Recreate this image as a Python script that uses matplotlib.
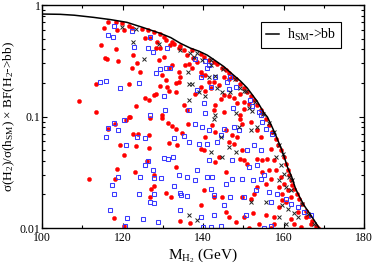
import matplotlib
matplotlib.use("Agg")
import matplotlib.pyplot as plt
from matplotlib.ticker import LogLocator, NullFormatter, MultipleLocator

plt.rcParams['font.family'] = ['Liberation Serif', 'DejaVu Serif']
plt.rcParams['mathtext.default'] = 'regular'

# SM reference curve (h_SM -> bb)
curve_x = [100, 104.5, 108, 112.8, 117, 121.1, 125, 129.4, 132, 134.4, 136.9, 139, 141, 143,
           145.2, 147, 149.3, 151, 153.5, 155.2, 156, 157, 158, 158.6, 159.5, 160.3, 161, 162,
           163, 164, 165, 165.5, 166.5, 167.5, 168.4, 169, 169.5]
curve_y = [0.83, 0.825, 0.81, 0.775, 0.74, 0.699, 0.63, 0.557, 0.51, 0.453, 0.41, 0.385, 0.356, 0.318,
           0.280, 0.245, 0.208, 0.180, 0.136, 0.107, 0.099, 0.083, 0.069, 0.061, 0.051, 0.042, 0.035, 0.029,
           0.0225, 0.019, 0.0162, 0.0152, 0.0135, 0.0119, 0.0106, 0.0098, 0.0092]

red_x = [115.3, 116.5, 118.4, 119.9, 121.5, 122.4, 120.3, 118.6, 124.8, 126.3, 127.8, 129.4, 130.2, 130.9,
         132.3, 132.9, 134.0, 135.4, 114.7, 118.4, 118.8, 115.7, 116.1, 122.6, 123.6, 125.7, 126.9, 128.6,
         129.4, 128.2, 131.9, 134.4, 136.1, 136.5, 132.3, 134.0, 134.4, 134.0, 130.7, 129.8, 129.0, 130.2,
         131.5, 122.4, 124.4, 121.5, 113.5, 129.4, 131.1, 133.2, 131.5, 133.2, 128.2, 127.8, 125.7, 126.5,
         123.4, 109.1, 113.5, 121.8, 129.8, 135.2, 135.9, 135.6,
         121.5, 120.9, 118.2, 116.5, 126.8, 129.8, 131.2, 132.3, 133.4, 134.8, 136.3, 122.6, 123.8, 126.7,
         119.3, 123.4, 126.5, 131.5, 133.6, 120.4, 126.1, 133.3, 118.6, 123.2, 127.8, 111.7, 118.2, 127.8,
         127.1, 126.8, 130.7, 132.1, 118.0, 120.3, 134.4, 136.7,
         137.3, 139.4, 140.2, 141.4, 142.7, 143.5, 144.8, 145.6, 146.4, 147.3, 148.1, 149.3, 150.2, 151.0,
         151.8, 152.7, 153.5, 154.3, 154.7,
         137.3, 138.5, 139.4, 140.6, 141.4, 139.4, 140.6, 138.1, 142.7, 143.9, 145.2, 146.4, 145.2, 146.4,
         147.7, 149.3, 148.5, 144.4, 143.1, 142.7, 145.2, 150.2, 150.2, 151.4, 149.3, 139.8, 141.9, 137.5,
         155.6, 156.4, 157.2, 158.1, 158.6, 159.3, 160.0, 160.6, 161.0, 161.4, 161.8, 162.2, 162.6, 163.3,
         163.9, 164.7, 165.5, 166.4, 167.2, 168.0, 168.5,
         166.8, 165.5, 163.5, 161.8, 161.0, 160.1, 159.3, 160.6, 159.7, 162.6, 164.3, 161.8,
         149.3, 149.8, 147.3, 148.5, 145.6, 143.1, 142.3, 140.6, 139.4, 140.2, 143.9, 146.4, 147.7, 149.8,
         149.3, 150.2, 151.0, 153.5, 154.7, 156.0, 156.4, 154.7, 156.8, 155.6, 153.5, 152.7, 151.8, 149.8,
         144.8, 142.7, 140.2, 139.4, 145.6, 143.1, 145.6, 146.4, 148.1, 150.2, 152.3, 155.6, 157.7, 153.9,
         157.7, 158.9, 154.3, 153.5, 151.8, 156.8, 157.7, 158.1, 158.9, 159.7, 151.5, 157.0]
red_y = [0.626, 0.709, 0.70, 0.685, 0.652, 0.618, 0.597, 0.597, 0.609, 0.597, 0.569, 0.546, 0.520, 0.486,
         0.463, 0.444, 0.409, 0.395, 0.438, 0.400, 0.315, 0.332, 0.328, 0.356, 0.300, 0.502, 0.502, 0.469,
         0.414, 0.409, 0.438, 0.432, 0.356, 0.294, 0.290, 0.252, 0.228, 0.202, 0.213, 0.236, 0.321, 0.344,
         0.270, 0.270, 0.252, 0.197, 0.194, 0.188, 0.185, 0.198, 0.169, 0.165, 0.158, 0.156, 0.146, 0.141,
         0.125, 0.138, 0.109, 0.099, 0.103, 0.127, 0.114, 0.290,
         0.098, 0.0924, 0.085, 0.0766, 0.096, 0.097, 0.087, 0.082, 0.078, 0.0716, 0.085, 0.0693, 0.0693, 0.0678,
         0.056, 0.0544, 0.0522, 0.058, 0.0553, 0.0455, 0.040, 0.0349, 0.0341, 0.0318, 0.0297, 0.0277, 0.0274, 0.0236,
         0.0225, 0.019, 0.0206, 0.019, 0.0122, 0.0104, 0.0116, 0.0112,
         0.395, 0.361, 0.344, 0.321, 0.306, 0.294, 0.274, 0.261, 0.244, 0.228, 0.217, 0.195, 0.181, 0.165,
         0.154, 0.141, 0.127, 0.114, 0.107,
         0.270, 0.310, 0.252, 0.236, 0.202, 0.185, 0.169, 0.158, 0.205, 0.192, 0.228, 0.217, 0.156, 0.154,
         0.146, 0.158, 0.131, 0.143, 0.127, 0.114, 0.110, 0.117, 0.136, 0.129, 0.103, 0.236, 0.179, 0.332,
         0.0956, 0.0834, 0.0727, 0.0633, 0.0551, 0.0497, 0.0433, 0.0378, 0.0329, 0.0297, 0.0268, 0.0241, 0.0225, 0.0203,
         0.0183, 0.0165, 0.0142, 0.0127, 0.0115, 0.0104, 0.0100,
         0.0109, 0.0125, 0.0139, 0.0190, 0.0218, 0.0250, 0.0287, 0.0171, 0.0177, 0.0109, 0.0102, 0.0121,
         0.0956, 0.0851, 0.0678, 0.0655, 0.0752, 0.0727, 0.0834, 0.0655, 0.0515, 0.0497, 0.0433, 0.0591, 0.0571, 0.0497,
         0.0419, 0.0405, 0.0378, 0.0419, 0.0405, 0.0419, 0.0329, 0.0318, 0.0277, 0.0250, 0.0233, 0.0203, 0.0183, 0.0190,
         0.0190, 0.0190, 0.0218, 0.0160, 0.0318, 0.0390, 0.0139, 0.0125, 0.0113, 0.0125, 0.0135, 0.0130, 0.0125, 0.0109,
         0.0109, 0.0154, 0.0655, 0.0752, 0.0893, 0.0515, 0.0405, 0.0329, 0.0233, 0.0203, 0.0101, 0.0101]

blue_x = [118.0, 116.5, 117.6, 122.4, 126.9, 122.9, 126.3, 127.6, 131.1, 129.2, 128.4, 130.8, 131.9, 114.5,
          116.0, 119.3, 124.0, 130.2, 126.8, 130.5, 136.5,
          117.8, 120.3, 116.5, 118.8, 115.9, 123.6, 125.7, 120.9, 132.7, 135.4, 136.5, 132.6, 130.2, 131.3,
          126.3, 125.7, 127.6, 119.0, 124.3, 127.8, 129.6, 134.0, 135.9, 117.4, 117.8, 124.0, 127.9, 132.7,
          134.4, 134.6, 135.9, 126.8, 127.9, 116.8, 134.2, 121.1, 125.0, 128.7, 120.5,
          138.1, 140.6, 141.4, 139.4, 142.9, 146.8, 148.1, 146.4, 138.5, 140.2, 140.6, 147.5, 151.7, 152.2,
          153.9, 154.3, 141.0, 141.9, 146.0,
          138.1, 139.8, 141.4, 144.4, 143.5, 141.0, 139.0, 141.4, 138.5, 141.0, 138.1, 142.3, 147.3, 151.0,
          152.7, 151.4, 147.3, 149.8, 152.3, 154.3, 145.6, 141.9, 142.7, 146.8, 150.2, 145.2, 139.4, 142.7,
          150.6, 153.1, 156.4, 156.8, 154.7, 155.6, 157.2, 154.3, 153.5, 155.2, 158.5, 160.6, 161.8, 163.5,
          165.1, 166.8, 147.7, 148.9, 145.2,
          140.1, 142.0, 144.4, 155.1, 157.0]
blue_y = [0.652, 0.538, 0.520, 0.585, 0.520, 0.417, 0.409, 0.381, 0.409, 0.265, 0.244, 0.274, 0.274, 0.205,
          0.208, 0.179, 0.198, 0.153, 0.103, 0.114, 0.114,
          0.087, 0.094, 0.079, 0.076, 0.0656, 0.066, 0.0641, 0.0553, 0.0635, 0.0663, 0.0596, 0.0433, 0.0421, 0.0415,
          0.0399, 0.037, 0.0329, 0.0285, 0.0285, 0.0282, 0.0279, 0.0297, 0.0288, 0.0244, 0.0201, 0.0203, 0.0203, 0.0236,
          0.0206, 0.0197, 0.0193, 0.0171, 0.0167, 0.0145, 0.0146, 0.0122, 0.0121, 0.0113, 0.0105,
          0.328, 0.315, 0.290, 0.228, 0.228, 0.228, 0.185, 0.177, 0.173, 0.131, 0.107, 0.119, 0.141, 0.125,
          0.110, 0.103, 0.270, 0.185, 0.205,
          0.0863, 0.0805, 0.0752, 0.0678, 0.0591, 0.0571, 0.0571, 0.0405, 0.0329, 0.0287, 0.0268, 0.0287, 0.0405, 0.0497,
          0.0551, 0.0352, 0.0277, 0.0277, 0.0268, 0.0277, 0.0250, 0.0225, 0.0196, 0.0190, 0.0190, 0.0160, 0.0125, 0.0130,
          0.0130, 0.0218, 0.0210, 0.0171, 0.0893, 0.0778, 0.0702, 0.0497, 0.0365, 0.0297, 0.0203, 0.0183, 0.0165, 0.0154,
          0.0139, 0.0130, 0.0805, 0.0752, 0.0778,
          0.0102, 0.0102, 0.0104, 0.0101, 0.0104]

black_x = [119.9, 123.4, 122.6, 129.0, 125.3, 134.4, 136.7, 136.2, 136.5, 136.5, 136.5,
           137.7, 139.8, 141.9, 143.1, 149.3, 150.2, 137.3, 139.0, 140.6, 144.8, 146.8, 143.5, 151.4, 148.1,
           143.1, 152.2, 141.4, 138.5, 142.0, 145.0, 148.0, 150.8, 153.0, 155.0,
           142.7, 148.9, 151.8, 153.5, 157.7, 158.9, 158.1, 159.3, 160.1, 161.4, 158.9, 160.6, 161.8, 159.7,
           161.0, 162.6, 148.1, 144.8, 146.4, 141.9, 144.4, 151.8, 155.6, 158.9, 160.6, 163.5, 167.6, 138.5,
           156.5, 159.8, 162.0, 164.5, 166.0]
black_y = [0.64, 0.609, 0.463, 0.444, 0.328, 0.395, 0.368, 0.252, 0.194, 0.141, 0.0130,
           0.344, 0.321, 0.290, 0.231, 0.179, 0.169, 0.194, 0.165, 0.154, 0.165, 0.165, 0.179, 0.118, 0.107,
           0.103, 0.112, 0.228, 0.37, 0.318, 0.268, 0.215, 0.170, 0.135, 0.105,
           0.0956, 0.0805, 0.0752, 0.0805, 0.0727, 0.0551, 0.0433, 0.0365, 0.0307, 0.0287, 0.0268, 0.0233, 0.0218, 0.0160,
           0.0149, 0.0135, 0.0481, 0.0433, 0.0533, 0.0481, 0.0655, 0.0171, 0.0171, 0.0125, 0.0109, 0.0125, 0.0109, 0.0117,
           0.088, 0.046, 0.027, 0.0165, 0.0133]

x_ticks = [100, 120, 140, 160, 180]
y_ticks = [0.01, 0.1, 1]
y_tick_labels = ["0.01", "0.1", "1"]

fig = plt.figure(figsize=(3.74, 2.65), dpi=100)
ax = fig.add_axes([0.1123, 0.1396, 0.8610, 0.8415])

ax.plot(red_x, red_y, linestyle='none', marker='o', markersize=3.0,
        markerfacecolor='#ff0000', markeredgecolor='#ff0000', markeredgewidth=0.3)
ax.plot(blue_x, blue_y, linestyle='none', marker='s', markersize=2.8,
        markerfacecolor='none', markeredgecolor='#3a3aff', markeredgewidth=0.75)
ax.plot(black_x, black_y, linestyle='none', marker='x', markersize=2.6,
        color='#222222', markeredgewidth=0.7)
ax.plot(curve_x, curve_y, color='black', linewidth=1.1, label=r'h$_{SM}$->bb')

ax.set_yscale('log')
ax.set_xlim(100, 180)
ax.set_ylim(0.01, 1)
ax.set_xticks(x_ticks)
ax.set_xticklabels([str(v) for v in x_ticks])
ax.xaxis.set_minor_locator(MultipleLocator(10))
ax.set_yticks(y_ticks)
ax.set_yticklabels(y_tick_labels)
ax.yaxis.set_minor_locator(LogLocator(base=10, subs=range(2, 10)))
ax.yaxis.set_minor_formatter(NullFormatter())

ax.tick_params(which='both', direction='in', top=True, right=True, labelsize=8.5, width=0.8)
ax.tick_params(which='major', length=3.8)
ax.tick_params(which='minor', length=2.2)
ax.tick_params(axis='y', pad=1)
ax.tick_params(axis='x', pad=3)
for s in ax.spines.values():
    s.set_linewidth(1.0)

ax.set_xlabel(r'M$_{H_2}$ (GeV)', fontsize=11, labelpad=2)
ax.set_ylabel(r'σ(H$_2$)/σ(h$_{SM}$) × BF(H$_2$->bb)', fontsize=9.5)
ax.yaxis.set_label_coords(-0.078, 0.5)

leg = ax.legend(loc='upper right', bbox_to_anchor=(0.929, 0.925), borderaxespad=0,
                fontsize=10, handlelength=0.9, handletextpad=0.6, borderpad=0.35,
                fancybox=False, framealpha=1, edgecolor='black')
leg.get_frame().set_linewidth(0.8)

fig.savefig('out.png', dpi=100)
